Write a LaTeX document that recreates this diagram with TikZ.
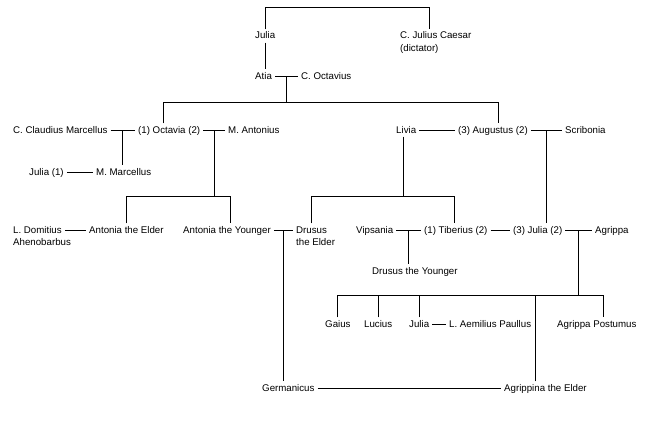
\documentclass[tikz,border=0pt]{standalone}
\usepackage{fontspec}
\setmainfont{Liberation Sans}
\usepackage{tikz}
\usetikzlibrary{calc}

\tikzset{
  person/.style={font=\fontsize{9.7}{12}\selectfont, anchor=west,
    inner xsep=3pt, inner ysep=2pt, text height=7.5pt, text depth=1.5pt},
  second/.style={person, anchor=north west, inner ysep=1.5pt},
  tie/.style={line width=0.8pt}
}

\begin{document}
\begin{tikzpicture}[x=1pt, y=-1pt]
\useasboundingbox (0,0) rectangle (650,420);

\node[person] (julia) at (252,36) {Julia};
\node[person, label={[second]south west:(dictator)}] (caesar) at (397,36) {C. Julius Caesar};
\node[person] (atia) at (252,76) {Atia};
\node[person] (octavius) at (298,76) {C. Octavius};

\node[person] (claudius) at (10,130) {C. Claudius Marcellus};
\node[person] (octavia) at (135,130) {(1) Octavia (2)};
\node[person] (antonius) at (225,130) {M. Antonius};
\node[person] (livia) at (393,130) {Livia};
\node[person] (augustus) at (455,130) {(3) Augustus (2)};
\node[person] (scribonia) at (562,130) {Scribonia};

\node[person] (juliam) at (26,172) {Julia (1)};
\node[person] (marcellus) at (93,172) {M. Marcellus};

\node[person, label={[second]south west:Ahenobarbus}] (domitius) at (10,230) {L. Domitius};
\node[person] (antelder) at (86,230) {Antonia the Elder};
\node[person] (antyounger) at (180,230) {Antonia the Younger};
\node[person, label={[second]south west:the Elder}] (drusus) at (293,230) {Drusus};
\node[person] (vipsania) at (353,230) {Vipsania};
\node[person] (tiberius) at (421,230) {(1) Tiberius (2)};
\node[person] (juliaa) at (510,230) {(3) Julia (2)};
\node[person] (agrippa) at (592,230) {Agrippa};

\node[person] (drususy) at (369,271) {Drusus the Younger};

\node[person] (gaius) at (322,324) {Gaius};
\node[person] (lucius) at (361,324) {Lucius};
\node[person] (juliap) at (406,324) {Julia};
\node[person] (paullus) at (446,324) {L. Aemilius Paullus};
\node[person] (postumus) at (554,324) {Agrippa Postumus};

\node[person] (germanicus) at (259,388) {Germanicus};
\node[person] (agrippina) at (501,388) {Agrippina the Elder};

% marriages
\draw[tie] (atia.east) -- (octavius.west);
\draw[tie] (claudius.east) -- (octavia.west);
\draw[tie] (octavia.east) -- (antonius.west);
\draw[tie] (livia.east) -- (augustus.west);
\draw[tie] (augustus.east) -- (scribonia.west);
\draw[tie] (juliam.east) -- (marcellus.west);
\draw[tie] (domitius.east) -- (antelder.west);
\draw[tie] (antyounger.east) -- (drusus.west);
\draw[tie] (vipsania.east) -- (tiberius.west);
\draw[tie] (tiberius.east) -- (juliaa.west);
\draw[tie] (juliaa.east) -- (agrippa.west);
\draw[tie] (juliap.east) -- (paullus.west);
\draw[tie] (germanicus.east) -- (agrippina.west);

\coordinate (m1) at ($(atia.east)!.5!(octavius.west)$);
\coordinate (m2) at ($(claudius.east)!.5!(octavia.west)$);
\coordinate (m3) at ($(octavia.east)!.5!(antonius.west)$);
\coordinate (m4) at ($(augustus.east)!.5!(scribonia.west)$);
\coordinate (m5) at ($(antyounger.east)!.5!(drusus.west)$);
\coordinate (m6) at ($(vipsania.east)!.5!(tiberius.west)$);
\coordinate (m7) at ($(juliaa.east)!.5!(agrippa.west)$);

% descent
\draw[tie] (julia.north) -- ++(0,-21.5) -| ([xshift=-6pt]caesar.north);
\draw[tie] (julia.south) -- (julia.south |- atia.north);
\draw[tie] (m1) -- ++(0,27);
\draw[tie] ([xshift=-6pt]octavia.north) -- ++(0,-20.5) -| ([xshift=5pt]augustus.north);
\draw[tie] (m2) -- (m2 |- marcellus.north);
\draw[tie] (m3) -- ++(0,67);
\draw[tie] (antelder.north) -- ++(0,-26.5) -| ([xshift=3pt]antyounger.north);
\draw[tie] ([xshift=-3pt]livia.south) -- ++(0,60.5);
\draw[tie] (drusus.north) -- ++(0,-26.5) -| ([xshift=-1pt]tiberius.north);
\draw[tie] (m4) -- (m4 |- juliaa.north);
\draw[tie] (m5) -- (m5 |- germanicus.north);
\draw[tie] (m6) -- (m6 |- drususy.north);
\draw[tie] (m7) -- ++(0,66);
\draw[tie] (gaius.north) -- ++(0,-21.5) -| ([xshift=7pt]postumus.north);
\draw[tie] (lucius.north) -- ++(0,-21.5);
\draw[tie] (juliap.north) -- ++(0,-21.5);
\draw[tie] ([xshift=-10pt]agrippina.north) -- ++(0,-85.5);

\end{tikzpicture}
\end{document}
